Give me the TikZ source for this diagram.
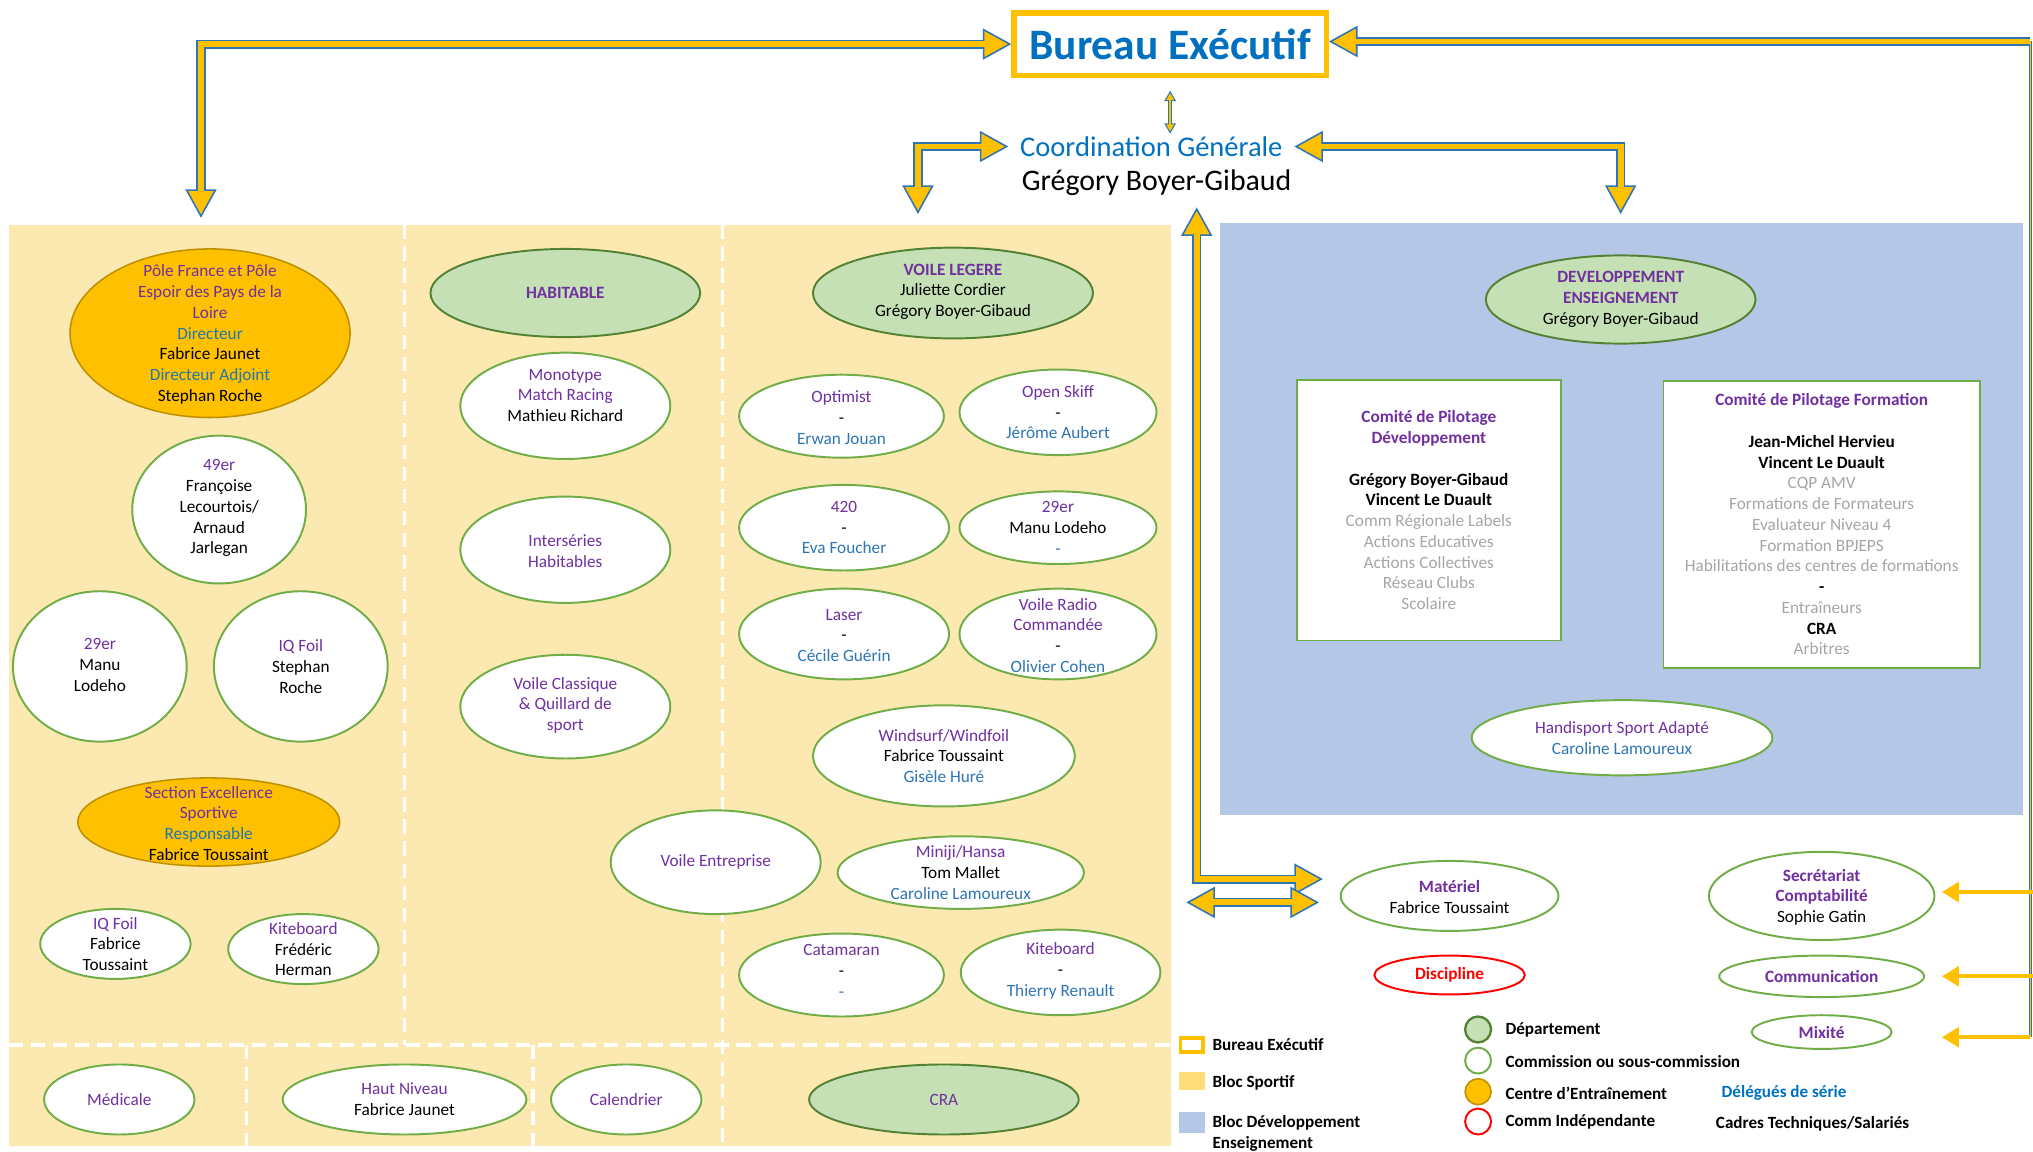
\documentclass[tikz,border=0pt]{standalone}
\usepackage{fontspec}
\setmainfont{Carlito}
\usetikzlibrary{arrows.meta,shapes.geometric,calc}

\definecolor{cPurple}{RGB}{112,48,160}
\definecolor{cBlue}{RGB}{0,112,192}
\definecolor{cName}{RGB}{46,117,182}
\definecolor{cTeal}{RGB}{31,120,170}
\definecolor{cGrey}{RGB}{166,166,166}
\definecolor{cOrange}{RGB}{255,192,0}
\definecolor{cOrangeD}{RGB}{191,144,0}
\definecolor{cGreen}{RGB}{112,173,71}
\definecolor{cGreenD}{RGB}{84,130,53}
\definecolor{cGreenF}{RGB}{197,224,180}
\definecolor{cSport}{RGB}{252,233,178}
\definecolor{cDev}{RGB}{180,199,231}
\definecolor{cArrBlue}{RGB}{46,117,182}
\definecolor{cArrYel}{RGB}{255,192,0}
\definecolor{cLegY}{RGB}{255,220,120}

\newcommand{\colP}[1]{\textcolor{cPurple}{#1}}
\newcommand{\colB}[1]{\textcolor{cName}{#1}}
\newcommand{\colT}[1]{\textcolor{cTeal}{#1}}
\newcommand{\colG}[1]{\textcolor{cGrey}{#1}}
\newcommand{\bodyfont}{\fontsize{13.3}{16}\selectfont}
\newcommand{\legfont}{\fontsize{13.2}{16}\selectfont\bfseries}

% name, style, x, y, rx, ry, text y, text
\newcommand{\Ell}[8]{%
  \node[#2, minimum width={2*#5pt}, minimum height={2*#6pt}] (#1) at (#3,#4) {};
  \node[txt] (#1t) at (#3,#7) {#8};}

\tikzset{
  txt/.style={inner sep=0pt, align=center, font=\bodyfont},
  comm/.style={ellipse, draw=cGreen, line width=1.5pt, fill=white, inner sep=0pt},
  dept/.style={ellipse, draw=cGreenD, line width=1.5pt, fill=cGreenF, inner sep=0pt},
  centre/.style={ellipse, draw=cOrangeD, line width=1.2pt, fill=cOrange, inner sep=0pt},
  indep/.style={ellipse, draw=red, line width=1.5pt, fill=white, inner sep=0pt},
  cbox/.style={rectangle, draw=cGreen, line width=1.5pt, fill=white, inner sep=0pt, align=center, font=\bodyfont},
  dashw/.style={draw=white, line width=2.5pt, dash pattern=on 11pt off 6pt},
  bt/.tip={Triangle[length=22pt,width=24pt,fill=cArrYel,line width=1.2pt]},
  st/.tip={Triangle[length=8pt,width=9pt,fill=cArrYel,line width=0.8pt]},
  bout/.style={draw=cArrBlue, line width=7pt, line join=miter},
  bin/.style={draw=cArrYel, line width=4.6pt, line join=miter},
  sout/.style={draw=cArrBlue, line width=3pt},
  sin/.style={draw=cArrYel, line width=1.4pt},
  yarrow/.style={draw=cArrYel, line width=3pt, -{Triangle[length=13pt,width=15pt]}},
  legsq/.style={inner sep=0pt},
  legcirc/.style={circle, minimum size=20pt, inner sep=0pt},
  legtxt/.style={inner sep=0pt, font=\legfont, anchor=west, align=left},
}

\begin{document}
\begin{tikzpicture}[x=1pt,y=-1pt]
\useasboundingbox (0,0) rectangle (1568,888);

% ---------- background blocks ----------
\node[fill=cSport, minimum width=896pt, minimum height=711pt, anchor=north west, inner sep=0pt] (sport) at (7,173) {};
\node[fill=cDev, minimum width=619pt, minimum height=456pt, anchor=north west, inner sep=0pt] (dev) at (941,172) {};

% white dashed separators
\draw[dashw] (312,173) -- (312,806);
\draw[dashw] (557,173) -- (557,884);
\draw[dashw] (7,806) -- (903,806);
\draw[dashw] (190,806) -- (190,884);
\draw[dashw] (411,806) -- (411,884);

% ---------- top ----------
\node[draw=cOrange, line width=4pt, fill=white, minimum width=241pt, minimum height=48pt, inner sep=0pt,
      font=\fontsize{33.5}{40}\selectfont\bfseries, text=cBlue] (be) at (902.5,34) {Bureau Exécutif};
\node[inner xsep=9pt, inner ysep=2pt, font=\fontsize{22}{26}\selectfont, text=cBlue] (cg1) at (888,113) {Coordination Générale};
\node[inner sep=2pt, font=\fontsize{23}{27}\selectfont] (cg2) at (892,141) {Grégory Boyer-Gibaud};

% ---------- Bloc sportif : colonne 1 ----------
\Ell{pole}{centre}{162}{257}{108}{65}{258}{\colP{Pôle France et Pôle}\\\colP{Espoir des Pays de la}\\\colP{Loire}\\\colT{Directeur}\\Fabrice Jaunet\\\colT{Directeur Adjoint}\\Stephan Roche}
\Ell{e49}{comm}{169}{393}{67}{57}{392}{\colP{49er}\\Françoise\\Lecourtois/\\Arnaud\\Jarlegan}
\Ell{e29a}{comm}{77}{514}{67}{58}{513}{\colP{29er}\\Manu\\Lodeho}
\Ell{iqa}{comm}{232}{514}{67}{58}{514}{\colP{IQ Foil}\\Stephan\\Roche}
\Ell{ses}{centre}{161}{634}{101}{34}{635}{\colP{Section Excellence}\\\colP{Sportive}\\\colT{Responsable}\\Fabrice Toussaint}
\Ell{iqb}{comm}{89}{728}{58}{27}{728}{\colP{IQ Foil}\\Fabrice\\Toussaint}
\Ell{kita}{comm}{234}{732}{58}{27}{732}{\colP{Kiteboard}\\Frédéric\\Herman}

% ---------- colonne 2 ----------
\Ell{hab}{dept}{436}{226}{104}{34}{226}{\colP{\textbf{HABITABLE}}}
\Ell{mono}{comm}{436}{313}{81}{41}{305}{\colP{Monotype}\\\colP{Match Racing}\\Mathieu Richard}
\Ell{inter}{comm}{436}{424}{81}{41}{425}{\colP{Interséries}\\\colP{Habitables}}
\Ell{vclass}{comm}{436}{545}{81}{40}{544}{\colP{Voile Classique}\\\colP{\& Quillard de}\\\colP{sport}}
\Ell{vent}{comm}{552}{665}{81}{40}{665}{\colP{Voile Entreprise}}

% ---------- colonne 3 ----------
\Ell{vl}{dept}{735}{226}{108}{35}{225}{\colP{\textbf{VOILE LEGERE}}\\Juliette Cordier\\Grégory Boyer-Gibaud}
\Ell{opt}{comm}{649}{321}{79}{32}{322}{\colP{Optimist}\\-\\\colB{Erwan Jouan}}
\Ell{osk}{comm}{816}{318}{76}{33}{318}{\colP{Open Skiff}\\-\\\colB{Jérôme Aubert}}
\Ell{f420}{comm}{651}{407}{81}{33}{407}{\colP{420}\\-\\\colB{Eva Foucher}}
\Ell{e29b}{comm}{816}{407}{76}{28}{407}{\colP{29er}\\Manu Lodeho\\\colB{-}}
\Ell{las}{comm}{651}{489}{81}{35}{490}{\colP{Laser}\\-\\\colB{Cécile Guérin}}
\Ell{vrc}{comm}{816}{489}{76}{35}{490}{\colP{Voile Radio}\\\colP{Commandée}\\-\\\colB{Olivier Cohen}}
\Ell{wind}{comm}{728}{583}{101}{39}{583}{\colP{Windsurf/Windfoil}\\Fabrice Toussaint\\\colB{Gisèle Huré}}
\Ell{mini}{comm}{741}{673}{95}{28}{673}{\colP{Miniji/Hansa}\\Tom Mallet\\\colB{Caroline Lamoureux}}
\Ell{cata}{comm}{649}{752}{79}{32}{749}{\colP{Catamaran}\\-\\\colB{-}}
\Ell{kitb}{comm}{818}{750}{77}{33}{749}{\colP{Kiteboard}\\-\\\colB{Thierry Renault}}

% ---------- bande du bas ----------
\Ell{med}{comm}{92}{848}{58}{27}{848}{\colP{Médicale}}
\Ell{hn}{comm}{312}{848}{94}{27}{848}{\colP{Haut Niveau}\\Fabrice Jaunet}
\Ell{cal}{comm}{483}{848}{58}{27}{848}{\colP{Calendrier}}
\Ell{cra}{dept}{728}{848}{104}{27}{848}{\colP{CRA}}

% ---------- Bloc développement ----------
\Ell{deven}{dept}{1250}{231}{104}{34}{231}{\colP{\textbf{DEVELOPPEMENT}}\\\colP{\textbf{ENSEIGNEMENT}}\\Grégory Boyer-Gibaud}
\node[cbox, minimum width=204pt, minimum height=201pt] (cpd) at (1102,393.5)
  {\colP{\textbf{Comité de Pilotage}}\\\colP{\textbf{Développement}}\\[16pt]\textbf{Grégory Boyer-Gibaud}\\\textbf{Vincent Le Duault}\\\colG{Comm Régionale Labels}\\\colG{Actions Educatives}\\\colG{Actions Collectives}\\\colG{Réseau Clubs}\\\colG{Scolaire}};
\node[cbox, minimum width=244pt, minimum height=221pt] (cpf) at (1405,404.5)
  {\colP{\textbf{Comité de Pilotage Formation}}\\[16pt]\textbf{Jean-Michel Hervieu}\\\textbf{Vincent Le Duault}\\\colG{CQP AMV}\\\colG{Formations de Formateurs}\\\colG{Evaluateur Niveau 4}\\\colG{Formation BPJEPS}\\\colG{Habilitations des centres de formations}\\\textbf{-}\\\colG{Entraîneurs}\\\textbf{CRA}\\\colG{Arbitres}};
\Ell{handi}{comm}{1251}{569}{116}{29}{569}{\colP{Handisport Sport Adapté}\\\colB{Caroline Lamoureux}}

% ---------- commissions à droite ----------
\Ell{mat}{comm}{1118}{691}{84}{27}{692}{\colP{\textbf{Matériel}}\\Fabrice Toussaint}
\Ell{disc}{indep}{1118}{752}{58}{15}{752}{\textcolor{red}{\textbf{Discipline}}}
\Ell{secr}{comm}{1405}{691}{87}{34}{692}{\colP{\textbf{Secrétariat}}\\\colP{\textbf{Comptabilité}}\\Sophie Gatin}
\Ell{comn}{comm}{1405}{753}{79}{16}{753}{\colP{\textbf{Communication}}}
\Ell{mix}{comm}{1405}{796}{54}{13}{796}{\colP{\textbf{Mixité}}}

% ---------- légende ----------
\node[legsq, draw=cOrange, line width=3pt, fill=white, minimum width=17pt, minimum height=11pt] (lgbe) at (919,806) {};
\node[legsq, fill=cLegY, minimum width=20pt, minimum height=14pt] (lgbs) at (919,834) {};
\node[legsq, fill=cDev, minimum width=20pt, minimum height=16pt] (lgbd) at (919,866) {};
\node[legtxt] (lgbet) at (935,806) {Bureau Exécutif};
\node[legtxt] (lgbst) at (935,835) {Bloc Sportif};
\node[legtxt] (lgbdt) at (935,874) {Bloc Développement\\Enseignement};
\node[legcirc, draw=cGreenD, line width=1.8pt, fill=cGreenF] (lgdep) at (1140,794) {};
\node[legcirc, draw=cGreen, line width=1.5pt, fill=white] (lgcom) at (1140,818) {};
\node[legcirc, draw=cOrangeD, line width=1.2pt, fill=cOrange] (lgcen) at (1140,842) {};
\node[legcirc, draw=red, line width=1.5pt, fill=white] (lgind) at (1140,865) {};
\node[legtxt] (lgdept) at (1161,794) {Département};
\node[legtxt] (lgcomt) at (1161,819) {Commission ou sous-commission};
\node[legtxt] (lgcent) at (1161,843) {Centre d’Entraînement};
\node[legtxt] (lgindt) at (1161,865) {Comm Indépendante};
\node[inner sep=0pt, font=\legfont, text=cBlue] (lgdel) at (1376,843) {Délégués de série};
\node[inner sep=0pt, font=\legfont] (lgcad) at (1398,867) {Cadres Techniques/Salariés};

% ---------- flèches ----------
\coordinate (a1s) at (155,168);
\draw[bout, bt-bt] (a1s) |- (be.west);
\draw[bin, shorten <=19pt, shorten >=19pt] (a1s) |- (be.west);

\coordinate (a2s) at (708,165);
\draw[bout, bt-bt] (a2s) |- (cg1.west);
\draw[bin, shorten <=19pt, shorten >=19pt] (a2s) |- (cg1.west);

\coordinate (a3e) at (1250,165);
\draw[bout, bt-bt] (cg1.east) -| (a3e);
\draw[bin, shorten <=19pt, shorten >=19pt] (cg1.east) -| (a3e);

\coordinate (rc) at (1566,32);
\coordinate (mixc) at (1566,800);
\draw[draw=cArrBlue, line width=2.6pt] (rc) -- (mixc);
\draw[draw=cArrYel, line width=1pt] (rc) -- (mixc);
\draw[bout, -bt] (rc) -- (rc -| be.east);
\draw[bin, shorten >=19pt] (rc) -- (rc -| be.east);

\draw[sout, st-st, shorten <=10pt] (be.south) -- (be.south |- cg1.north);
\draw[sin, shorten <=16pt, shorten >=6pt] (be.south) -- (be.south |- cg1.north);

\coordinate (a5s) at (923,160);
\draw[bout, bt-bt, shorten >=13pt] (a5s) |- ([yshift=13pt]mat.west);
\draw[bin, shorten <=19pt, shorten >=32pt] (a5s) |- ([yshift=13pt]mat.west);

\coordinate (a6s) at (915,696);
\draw[bout, bt-bt, shorten >=16pt] (a6s) -- ([yshift=-5pt]mat.west);
\draw[bin, shorten <=19pt, shorten >=35pt] (a6s) -- ([yshift=-5pt]mat.west);

\coordinate (secA) at (1568,688);
\coordinate (comA) at (1568,753);
\draw[yarrow, shorten >=5pt] (secA) -- (secA -| secr.east);
\draw[yarrow, shorten >=13pt] (comA) -- (comA -| comn.east);
\draw[yarrow, shorten >=38pt] (mixc) -- (mixc -| mix.east);

\end{tikzpicture}
\end{document}
